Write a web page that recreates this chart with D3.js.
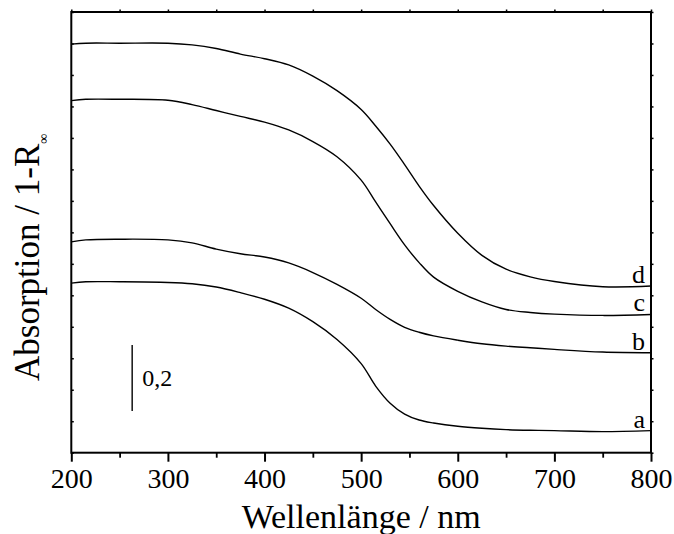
<!DOCTYPE html>
<html>
<head>
<meta charset="utf-8">
<script src="https://cdn.jsdelivr.net/npm/d3@7"></script>
<style>
  html, body { margin: 0; padding: 0; background: #fff; }
  svg { display: block; font-family: "Liberation Serif", "Times New Roman", serif; }
</style>
</head>
<body>
<svg id="chart" width="674" height="534"></svg>
<script>
// Wavelength grid (nm) shared by all spectra
const wavelengths = [200, 215, 250, 300, 325, 350, 375, 400, 425, 450, 475, 500, 515, 530, 545, 560, 575, 600, 625, 650, 675, 700, 750, 800];

// Absorption (1 - R∞), curves offset vertically
const seriesA = [0.514, 0.518, 0.518, 0.516, 0.512, 0.502, 0.485, 0.465, 0.438, 0.397, 0.343, 0.270, 0.202, 0.150, 0.117, 0.099, 0.090, 0.080, 0.074, 0.070, 0.068, 0.067, 0.064, 0.067];
const seriesB = [0.639, 0.645, 0.647, 0.645, 0.636, 0.617, 0.603, 0.593, 0.575, 0.546, 0.510, 0.468, 0.434, 0.404, 0.380, 0.365, 0.354, 0.341, 0.330, 0.323, 0.318, 0.313, 0.305, 0.303];
const seriesC = [1.067, 1.071, 1.071, 1.068, 1.055, 1.037, 1.019, 1.002, 0.978, 0.943, 0.897, 0.826, 0.760, 0.694, 0.630, 0.576, 0.532, 0.489, 0.457, 0.434, 0.425, 0.420, 0.416, 0.419];
const seriesD = [1.238, 1.241, 1.241, 1.241, 1.236, 1.225, 1.208, 1.194, 1.175, 1.141, 1.097, 1.040, 0.990, 0.935, 0.873, 0.808, 0.749, 0.665, 0.598, 0.556, 0.533, 0.519, 0.503, 0.505];

const seriesNames = ["a", "b", "c", "d"];
const seriesValues = [seriesA, seriesB, seriesC, seriesD];

const xTickLabels = [200, 300, 400, 500, 600, 700, 800];
const xMinorTicks = [250, 350, 450, 550, 650, 750];
const yDomain = [0, 1.3355];
const yTickCount = 14;
const scaleBarValue = 0.2;
const scaleBarLabel = "0,2";

const svg = d3.select("#chart");
const plot = { left: 71.3, right: 651, top: 12, bottom: 452.7 };

const x = d3.scaleLinear().domain([200, 800]).range([plot.left, plot.right]);
const y = d3.scaleLinear().domain(yDomain).range([plot.bottom, plot.top]);

const yTicks = d3.range(yTickCount + 1).map(i => yDomain[0] + i * (yDomain[1] - yDomain[0]) / yTickCount);
const topTicks = d3.range(200, 801, 50);

// Bottom axis: labelled major ticks and shorter minor ticks, pointing outward
const bottomMajor = d3.axisBottom(x).tickValues(xTickLabels).tickSize(9).tickPadding(6).tickFormat(d3.format("d"));
const gBottom = svg.append("g").attr("transform", `translate(0,${plot.bottom})`).call(bottomMajor);
gBottom.select(".domain").remove();
gBottom.selectAll(".tick line").attr("stroke", "#000").attr("stroke-width", 2);
gBottom.selectAll(".tick text")
  .attr("font-family", "'Liberation Serif', 'Times New Roman', serif")
  .attr("font-size", 28).attr("fill", "#000");

const bottomMinor = d3.axisBottom(x).tickValues(xMinorTicks).tickSize(5).tickFormat("");
const gBottomMinor = svg.append("g").attr("transform", `translate(0,${plot.bottom})`).call(bottomMinor);
gBottomMinor.select(".domain").remove();
gBottomMinor.selectAll(".tick line").attr("stroke", "#000").attr("stroke-width", 1.8);

// Top axis: small outward ticks every 50 nm
const gTop = svg.append("g").attr("transform", `translate(0,${plot.top})`)
  .call(d3.axisTop(x).tickValues(topTicks).tickSize(2.5).tickFormat(""));
gTop.select(".domain").remove();
gTop.selectAll(".tick line").attr("stroke", "#000").attr("stroke-width", 1.5);

// Left and right axes: small unlabelled ticks
const gLeft = svg.append("g").attr("transform", `translate(${plot.left},0)`)
  .call(d3.axisRight(y).tickValues(yTicks).tickSize(2.5).tickFormat(""));
gLeft.select(".domain").remove();
gLeft.selectAll(".tick line").attr("stroke", "#000").attr("stroke-width", 1.5);

const gRight = svg.append("g").attr("transform", `translate(${plot.right},0)`)
  .call(d3.axisRight(y).tickValues(yTicks).tickSize(2.5).tickFormat(""));
gRight.select(".domain").remove();
gRight.selectAll(".tick line").attr("stroke", "#000").attr("stroke-width", 1.5);

// Frame
svg.append("rect")
  .attr("x", plot.left).attr("y", plot.top)
  .attr("width", plot.right - plot.left).attr("height", plot.bottom - plot.top)
  .attr("fill", "none").attr("stroke", "#000").attr("stroke-width", 2);

// Spectra
const line = d3.line()
  .x((d, i) => x(wavelengths[i]))
  .y(d => y(d))
  .curve(d3.curveCatmullRom.alpha(0.5));

svg.append("g").selectAll("path")
  .data(seriesValues)
  .join("path")
  .attr("d", d => line(d))
  .attr("fill", "none")
  .attr("stroke", "#000")
  .attr("stroke-width", 1.4);

// Curve letters at the right end of each spectrum
svg.append("g").selectAll("text")
  .data(seriesNames)
  .join("text")
  .attr("x", x(800) - 6)
  .attr("y", (d, i) => y(seriesValues[i][seriesValues[i].length - 1]) - 3)
  .attr("text-anchor", "end")
  .attr("font-size", 26)
  .attr("fill", "#000")
  .text(d => d);

// Scale bar for 0.2 absorption units
const barX = x(263);
const barBase = 0.126;
svg.append("line")
  .attr("x1", barX).attr("x2", barX)
  .attr("y1", y(barBase)).attr("y2", y(barBase + scaleBarValue))
  .attr("stroke", "#000").attr("stroke-width", 1.4);
svg.append("text")
  .attr("x", barX + 10).attr("y", y(barBase + scaleBarValue / 2) + 8)
  .attr("font-size", 24).attr("fill", "#000")
  .text(scaleBarLabel);

// Axis titles
svg.append("text")
  .attr("x", (plot.left + plot.right) / 2).attr("y", 528)
  .attr("text-anchor", "middle")
  .attr("font-size", 34).attr("fill", "#000")
  .text("Wellenlänge / nm");

const yTitle = svg.append("text")
  .attr("transform", "translate(39,381) rotate(-90)")
  .attr("font-size", 35).attr("fill", "#000");
yTitle.append("tspan").text("Absorption / 1-R");
yTitle.append("tspan").attr("font-size", 14).attr("dy", 9).text("∞");
</script>
</body>
</html>
